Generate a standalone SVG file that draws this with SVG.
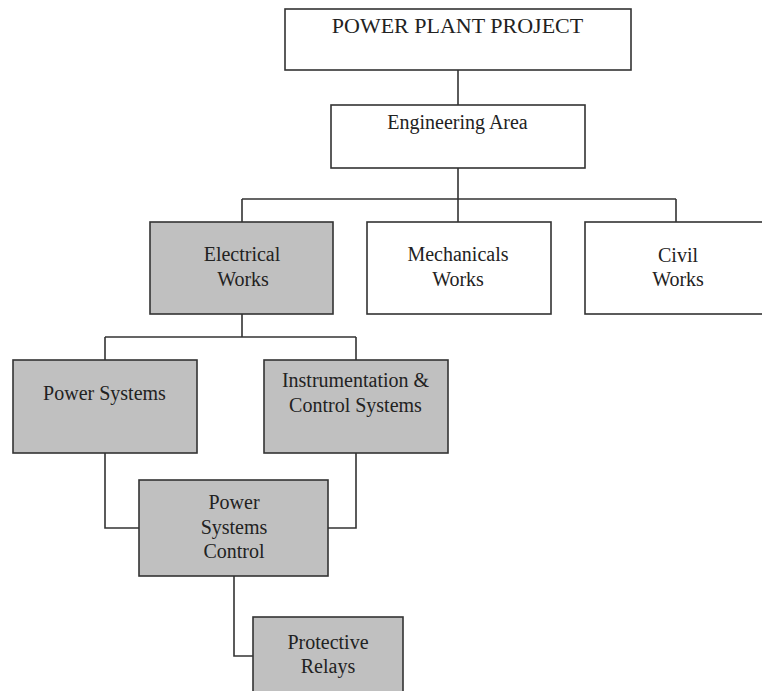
<svg xmlns="http://www.w3.org/2000/svg" width="762" height="691" viewBox="0 0 762 691">
<style>
.box{stroke:#333;stroke-width:1.6;}
.w{fill:#fff;}
.g{fill:#c0c0c0;}
.t{font-family:"Liberation Serif","Times New Roman",serif;font-size:20px;fill:#222;text-anchor:middle;}
.c{fill:none;stroke:#333;stroke-width:1.6;}
</style>
<rect width="762" height="691" fill="#fff"/>
<g id="connectors">
<path class="c" d="M458 70 V105"/>
<path class="c" d="M458 168 V199 M242 199 H676 M242 199 V222 M458 199 V222 M676 199 V222"/>
<path class="c" d="M242 314 V337 M105 337 H356 M105 337 V360 M356 337 V360"/>
<path class="c" d="M105 453 V528 H139 M356 453 V528 H328"/>
<path class="c" d="M234 576 V656 H253"/>
</g>
<g id="power-plant-project">
<rect class="box w" x="285" y="9" width="346" height="61"/>
<text class="t" x="457.5" y="33" style="font-size:22px">POWER PLANT PROJECT</text>
</g>
<g id="engineering-area">
<rect class="box w" x="331" y="105" width="254" height="63"/>
<text class="t" x="457.5" y="129">Engineering Area</text>
</g>
<g id="electrical-works">
<rect class="box g" x="150" y="222" width="183" height="92"/>
<text class="t" x="242" y="261">Electrical</text>
<text class="t" x="243" y="286">Works</text>
</g>
<g id="mechanicals-works">
<rect class="box w" x="367" y="222" width="184" height="92"/>
<text class="t" x="458" y="261">Mechanicals</text>
<text class="t" x="458" y="286">Works</text>
</g>
<g id="civil-works">
<rect class="box w" x="585" y="222" width="184" height="92"/>
<text class="t" x="678" y="262">Civil</text>
<text class="t" x="678" y="286">Works</text>
</g>
<g id="power-systems">
<rect class="box g" x="13" y="360" width="184" height="93"/>
<text class="t" x="104.5" y="400">Power Systems</text>
</g>
<g id="instrumentation-control">
<rect class="box g" x="264" y="360" width="184" height="93"/>
<text class="t" x="355.5" y="387">Instrumentation &amp;</text>
<text class="t" x="355.5" y="412">Control Systems</text>
</g>
<g id="power-systems-control">
<rect class="box g" x="139" y="480" width="189" height="96"/>
<text class="t" x="234" y="509">Power</text>
<text class="t" x="234" y="534">Systems</text>
<text class="t" x="234" y="558">Control</text>
</g>
<g id="protective-relays">
<rect class="box g" x="253" y="617" width="150" height="90"/>
<text class="t" x="328" y="649">Protective</text>
<text class="t" x="328" y="673">Relays</text>
</g>
</svg>
